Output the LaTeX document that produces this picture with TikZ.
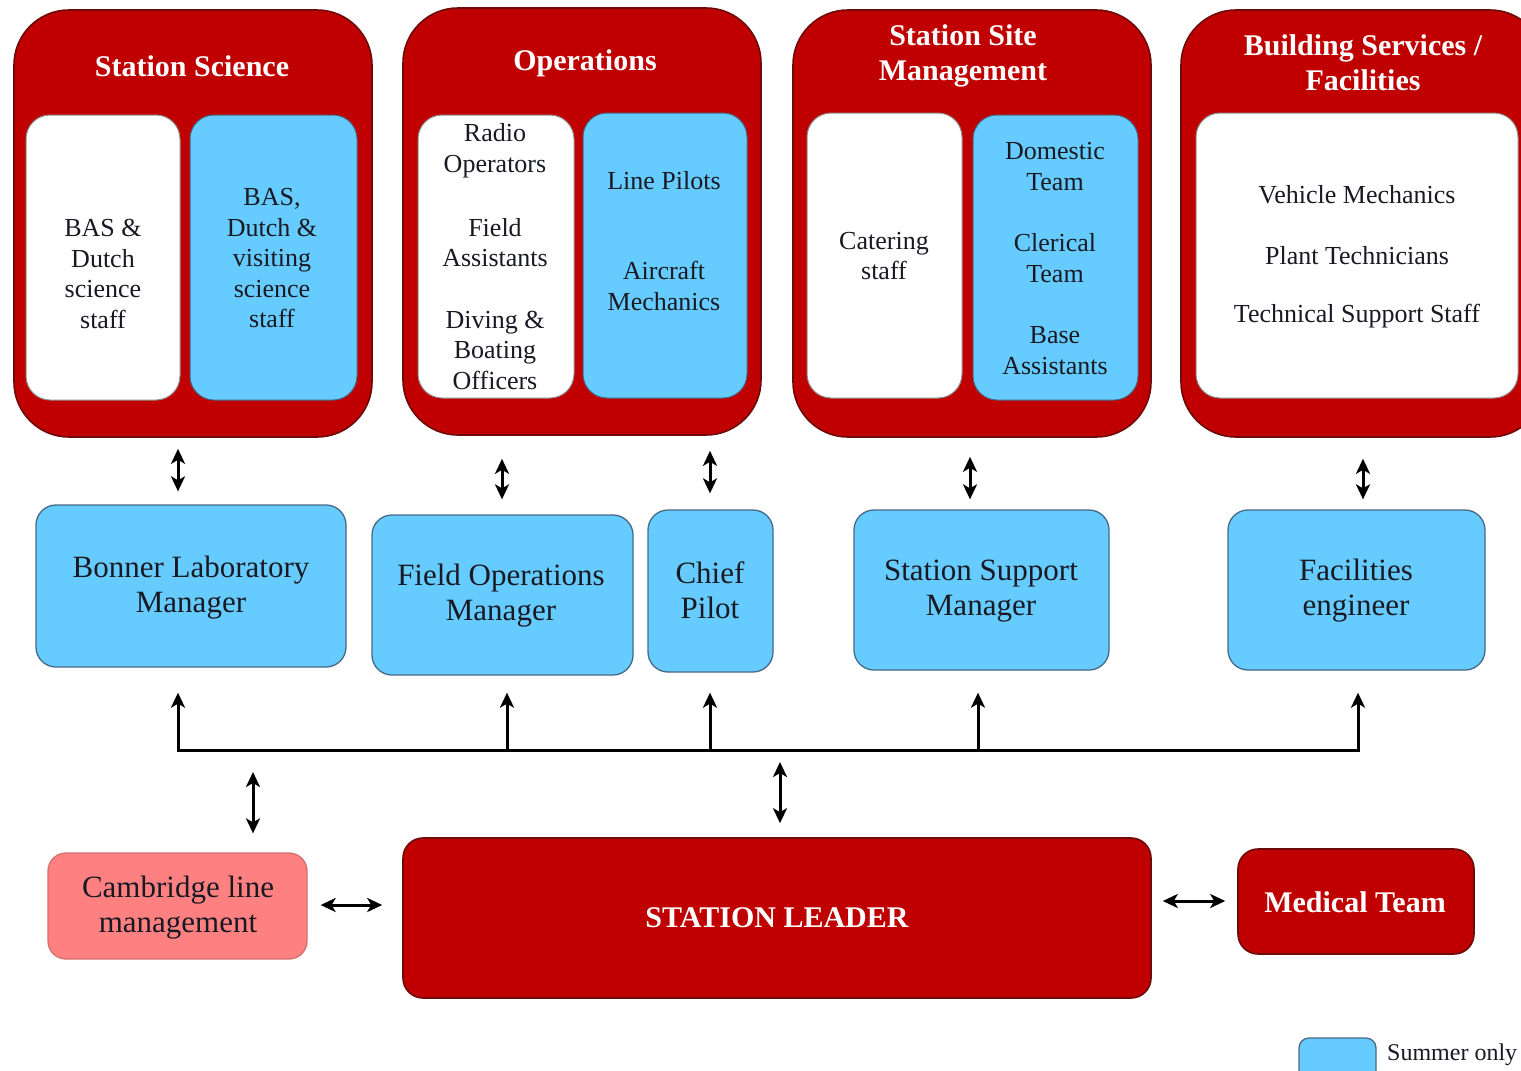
\documentclass[tikz,border=0pt]{standalone}
\usepackage{fontspec}
\setmainfont{Liberation Serif}
\usetikzlibrary{arrows.meta}
\definecolor{bred}{RGB}{192,0,0}
\definecolor{bredline}{RGB}{110,10,10}
\definecolor{sky}{RGB}{102,204,255}
\definecolor{skyline}{RGB}{70,105,135}
\definecolor{pinkbox}{RGB}{255,128,128}
\definecolor{pinkline}{RGB}{215,110,110}
\definecolor{txt}{RGB}{25,25,35}
\begin{document}
\begin{tikzpicture}[x=1pt,y=-1pt,
  outerbox/.style={draw=bredline,fill=bred,line width=1.6,rounded corners=55,inner sep=0},
  whitebox/.style={draw=black!45,fill=white,line width=1,rounded corners=24,inner sep=0},
  bluebox/.style={draw=skyline,fill=sky,line width=1,rounded corners=24,inner sep=0},
  midbox/.style={draw=skyline,fill=sky,line width=1.3,rounded corners=20,inner sep=0},
  redbox/.style={draw=bredline,fill=bred,line width=1.6,rounded corners=20,inner sep=0},
  pinkbx/.style={draw=pinkline,fill=pinkbox,line width=1.3,rounded corners=18,inner sep=0},
  title/.style={text=white,font=\fontsize{30}{35}\selectfont\bfseries,align=center,inner sep=0},
  small/.style={text=txt,font=\fontsize{26}{30.5}\selectfont,align=center,inner sep=0},
  big/.style={text=txt,font=\fontsize{31}{35}\selectfont,align=center,inner sep=0},
  arr/.style={line width=3,black,-{Stealth[length=15pt,width=14pt,inset=4pt]}},
  darr/.style={line width=3,black,{Stealth[length=15pt,width=14pt,inset=4pt]}-{Stealth[length=15pt,width=14pt,inset=4pt]}},
  bus/.style={line width=3,black}
]
\useasboundingbox (0,0) rectangle (1521,1071);
\clip (0,0) rectangle (1521,1071);
\fill[white] (0,0) rectangle (1521,1071);

% ---- top groups ----
\node[outerbox,minimum width=358,minimum height=427] (ss)  at (193,223.5) {};
\node[outerbox,minimum width=358,minimum height=427] (ops) at (582,221.5) {};
\node[outerbox,minimum width=358,minimum height=427] (ssm) at (972,223.5) {};
\node[outerbox,minimum width=364,minimum height=427] (bs)  at (1363,223.5) {};

\node[title] (ssT)  at (192,66) {Station Science};
\node[title] (opsT) at (585,63) {Operations};
\node[title] (ssmT) at (963,56) {Station Site\\Management};
\node[title] (bsT)  at (1363,62.5) {Building Services /\\Facilities};

\node[whitebox,minimum width=154,minimum height=285] (ss1) at (103,257.5) {};
\node[bluebox, minimum width=167,minimum height=285] (ss2) at (273.5,257.5) {};
\node[whitebox,minimum width=156,minimum height=283] (op1) at (496,256.5) {};
\node[bluebox, minimum width=164,minimum height=285] (op2) at (665,255.5) {};
\node[whitebox,minimum width=155,minimum height=285] (sm1) at (884.5,255.5) {};
\node[bluebox, minimum width=165,minimum height=285] (sm2) at (1055.5,257.5) {};
\node[whitebox,minimum width=322,minimum height=285] (bs1) at (1357,255.5) {};

\node[small] (t1) at (103,274) {BAS \&\\Dutch\\science\\staff};
\node[small] (t2) at (272,258.5) {BAS,\\Dutch \&\\visiting\\science\\staff};
\node[small] (t3) at (495,150.5) {Radio\\Operators};
\node[small] (t4) at (495,242.5) {Field\\Assistants};
\node[small] (t5) at (495,350) {Diving \&\\Boating\\Officers};
\node[small] (t6) at (664,181) {Line Pilots};
\node[small] (t7) at (664,286) {Aircraft\\Mechanics};
\node[small] (t8) at (884,256) {Catering\\staff};
\node[small] (t9) at (1055,166.5) {Domestic\\Team};
\node[small] (t10) at (1055,258) {Clerical\\Team};
\node[small] (t11) at (1055,350.5) {Base\\Assistants};
\node[small] (t12) at (1357,195) {Vehicle Mechanics};
\node[small] (t13) at (1357,256) {Plant Technicians};
\node[small] (t14) at (1357,316) {Technical Support Staff};

% ---- managers ----
\node[midbox,minimum width=310,minimum height=162] (blm) at (191,586) {};
\node[big] at (191,587.5) {Bonner Laboratory\\Manager};
\node[midbox,minimum width=261,minimum height=160] (fom) at (502.5,595) {};
\node[big] at (501,596) {Field Operations\\Manager};
\node[midbox,minimum width=125,minimum height=162] (cp) at (710.5,591) {};
\node[big] at (710,590.5) {Chief\\Pilot};
\node[midbox,minimum width=255,minimum height=160] (smg) at (981.5,590) {};
\node[big] at (981,591.5) {Station Support\\Manager};
\node[midbox,minimum width=257,minimum height=160] (fe) at (1356.5,590) {};
\node[big] at (1356,590.5) {Facilities\\engineer};

% ---- bottom ----
\node[pinkbx,minimum width=259,minimum height=106] (cam) at (177.5,906) {};
\node[big] at (178,908) {Cambridge line\\management};
\node[redbox,minimum width=748,minimum height=160] (sl) at (777,918) {};
\node[title,font=\fontsize{30}{35}\selectfont\bfseries] at (777,918) {STATION LEADER};
\node[redbox,minimum width=236,minimum height=105] (med) at (1356,901.5) {};
\node[title] at (1355,902) {Medical Team};

% ---- legend ----
\node[midbox,rounded corners=10,minimum width=77,minimum height=52] (leg) at (1337.5,1064) {};
\node[small,anchor=west,font=\fontsize{24}{28}\selectfont] (legT) at (1387,1055) {Summer only};

% ---- connectors top/middle ----
\coordinate (xa) at (178,0);
\coordinate (xb) at (502,0);
\coordinate (xc) at (710,0);
\coordinate (xd) at (970,0);
\coordinate (xe) at (1363,0);
\draw[darr,shorten <=11,shorten >=13] (ss.south -| xa) -- (blm.north -| xa);
\draw[darr,shorten <=23,shorten >=15] (ops.south -| xb) -- (fom.north -| xb);
\draw[darr,shorten <=15,shorten >=16] (ops.south -| xc) -- (cp.north -| xc);
\draw[darr,shorten <=19,shorten >=10] (ssm.south -| xd) -- (smg.north -| xd);
\draw[darr,shorten <=21,shorten >=10] (bs.south -| xe) -- (fe.north -| xe);

% ---- bus ----
\coordinate (busL) at (178,750);
\coordinate (busR) at (1358,750);
\coordinate (b2) at (507,750);
\coordinate (b3) at (710,750);
\coordinate (b4) at (978,750);
\coordinate (bsl) at (780,750);
\coordinate (bcam) at (253,750);
\draw[bus,line cap=rect] (busL) -- (busR);
\draw[arr,shorten >=25] (busL) -- (blm.south -| busL);
\draw[arr,shorten >=17] (b2) -- (fom.south -| b2);
\draw[arr,shorten >=20] (b3) -- (cp.south -| b3);
\draw[arr,shorten >=22] (b4) -- (smg.south -| b4);
\draw[arr,shorten >=22] (busR) -- (fe.south -| busR);
\draw[darr,shorten <=12,shorten >=14] (bsl) -- (sl.north -| bsl);
\draw[darr,shorten <=22,shorten >=19] (bcam) -- (cam.north -| bcam);

% ---- horizontal ----
\coordinate (ya) at (0,905);
\coordinate (yb) at (0,901);
\draw[darr,shorten <=13,shorten >=20] (cam.east |- ya) -- (sl.west |- ya);
\draw[darr,shorten <=11,shorten >=12] (sl.east |- yb) -- (med.west |- yb);
\end{tikzpicture}
\end{document}
